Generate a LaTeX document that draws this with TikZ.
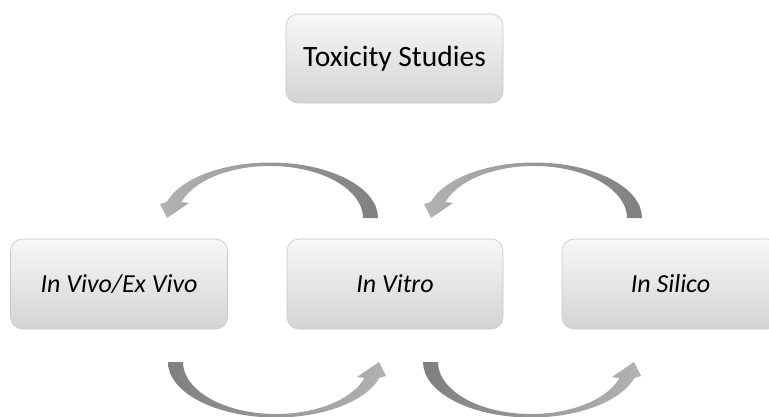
\documentclass[tikz,border=0pt]{standalone}
\usepackage{fontspec}
\setmainfont{Carlito}
\begin{document}
\begin{tikzpicture}[x=1pt,y=1pt,
  box/.style={draw=black!22, line width=0.6pt, rounded corners=12pt,
    top color=black!3, bottom color=black!17,
    minimum width=217pt, minimum height=90pt, inner sep=0pt,
    font=\fontsize{26}{30}\selectfont\itshape},
  titlebox/.style={box, minimum height=89pt, font=\fontsize{29.5}{33}\selectfont},
  upfill/.style={left color=black!30, middle color=black!17, right color=black!50},
  downfill/.style={left color=black!50, middle color=black!17, right color=black!30},
  curvarrow/.pic={
    \path[pic actions] (93,0) -- (108,0)
      arc[start angle=0,end angle=163.2,x radius=108,y radius=55.5]
      -- (-110,14) -- (-103,0) -- (-81,15) -- (-88.5,16)
      arc[start angle=162.1,end angle=0,x radius=93,y radius=52] -- cycle;
  }]
\useasboundingbox (0,0) rectangle (769,416);
\clip (0,0) rectangle (769,416);

\node[titlebox] (tox) at (394.5,357.5) {Toxicity Studies};
\node[box] (vivo) at (119,132) {In Vivo/Ex Vivo};
\node[box, minimum width=216pt] (vitro) at (395,132) {In Vitro};
\node[box] (silico) at (670.5,132) {In Silico};

\coordinate (ua) at (270,198);
\coordinate (ub) at (534,198);
\coordinate (la) at (276,54);
\coordinate (lb) at (531,54);

\pic[upfill] at (ua) {curvarrow};
\pic[upfill] at (ub) {curvarrow};
\pic[downfill, rotate=180] at (la) {curvarrow};
\pic[downfill, rotate=180] at (lb) {curvarrow};
\end{tikzpicture}
\end{document}
